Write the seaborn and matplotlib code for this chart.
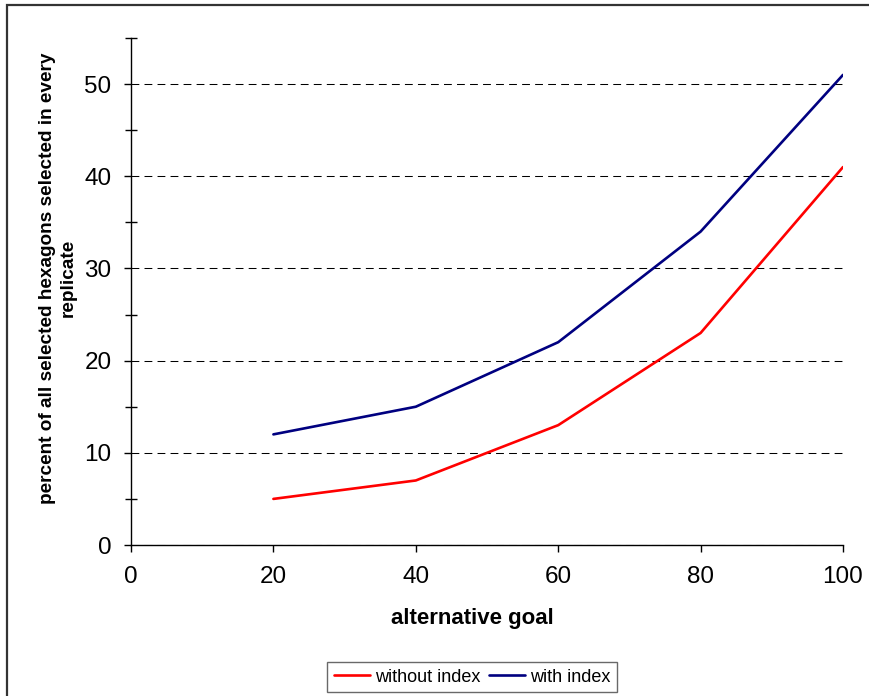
import pandas as pd
import seaborn as sns
import matplotlib.pyplot as plt
from matplotlib.patches import Rectangle
from matplotlib.ticker import MultipleLocator

# values
goals = [20, 40, 60, 80, 100]
without_index = [5, 7, 13, 23, 41]
with_index = [12, 15, 22, 34, 51]
series_names = ['without index', 'with index']
series_colors = ['#ff0000', '#000080']
x_ticks = [0, 20, 40, 60, 80, 100]
y_ticks = [0, 10, 20, 30, 40, 50]

df = pd.DataFrame({
    'goal': goals * 2,
    'percent': without_index + with_index,
    'series': [series_names[0]] * len(goals) + [series_names[1]] * len(goals),
})

sns.set_style('ticks')
plt.rcParams['font.family'] = ['Liberation Sans', 'DejaVu Sans']
plt.rcParams['text.color'] = 'black'
plt.rcParams['axes.labelcolor'] = 'black'

fig = plt.figure(figsize=(8.7, 6.96), dpi=100)
ax = fig.add_axes([131 / 870, 1 - 545 / 696, 712 / 870, 507 / 696])

sns.lineplot(data=df, x='goal', y='percent', hue='series',
             palette=dict(zip(series_names, series_colors)),
             linewidth=1.9, legend=False, ax=ax)

ax.set_xlim(0, 100)
ax.set_ylim(0, 55)
ax.set_xticks(x_ticks)
ax.set_yticks(y_ticks)
ax.yaxis.set_minor_locator(MultipleLocator(5))

# dashed horizontal gridlines
ax.yaxis.grid(True, which='major', color='black', linewidth=0.75,
              linestyle=(0, (7.5, 5)))
ax.xaxis.grid(False)

for side in ['top', 'right']:
    ax.spines[side].set_visible(False)
for side in ['left', 'bottom']:
    ax.spines[side].set_color('black')
    ax.spines[side].set_linewidth(1.0)

ax.tick_params(axis='both', which='major', direction='out', length=5,
               width=1, color='black', labelsize=17.5, labelcolor='black')
ax.tick_params(axis='x', which='major', pad=10)
ax.tick_params(axis='y', which='major', pad=9)
ax.tick_params(axis='y', which='minor', direction='inout', length=8.5,
               width=1, color='black')

ax.set_xlabel('alternative goal', fontsize=16, fontweight='bold')
ax.xaxis.set_label_coords((472 - 131) / 712, -0.125)
ax.set_ylabel('percent of all selected hexagons selected in every\nreplicate',
              fontsize=13.7, fontweight='bold', linespacing=1.3)
ax.yaxis.set_label_coords((77 - 131) / 712, (545 - 278) / 507)

handles = ax.get_lines()[:2]
leg = fig.legend(handles, series_names, loc='center',
                 bbox_to_anchor=(472 / 870, 1 - 677 / 696), ncol=2,
                 fontsize=13, frameon=True, fancybox=False,
                 handlelength=2.0, handletextpad=0.3, columnspacing=0.45,
                 borderpad=0.35, borderaxespad=0)
leg.get_frame().set_edgecolor('#444444')
leg.get_frame().set_linewidth(1.0)

# outer chart border (cut off at right and bottom like the reference)
fig.patches.append(Rectangle((7 / 870, -0.1), 1.2, 1.1 - 5 / 696,
                             transform=fig.transFigure, fill=False,
                             edgecolor='#333333', linewidth=1.6))

fig.savefig('out.png', dpi=100)
